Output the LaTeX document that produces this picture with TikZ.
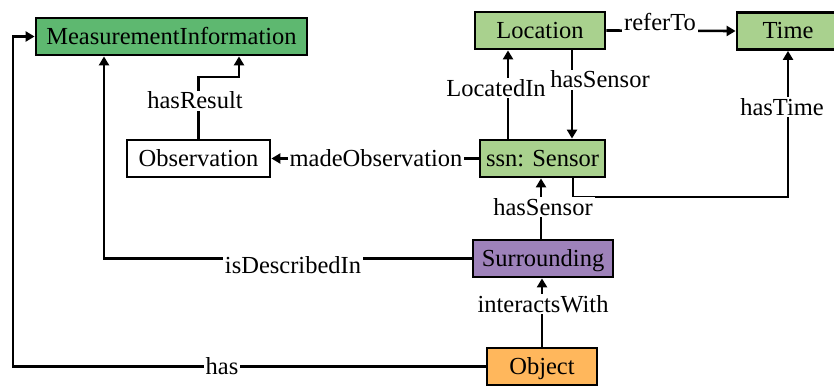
\documentclass[tikz,border=0pt]{standalone}
\usepackage{fontspec}
\setmainfont{Liberation Serif}
\usetikzlibrary{arrows.meta}

\definecolor{mgreen}{RGB}{94,184,112}
\definecolor{lgreen}{RGB}{169,209,142}
\definecolor{lpurple}{RGB}{158,130,186}
\definecolor{lorange}{RGB}{255,183,92}

\tikzset{
  box/.style={draw=black, line width=2.8pt, inner sep=0pt,
              minimum height=37pt, text height=16pt, text depth=0pt,
              font=\fontsize{24.5}{28}\selectfont},
  conn/.style={line width=2.6pt},
  arr/.style={conn, -{Triangle[length=9pt,width=10pt]}},
  rel/.style={fill=white, inner sep=2pt, text height=16pt, text depth=0pt,
              font=\fontsize{24.5}{28}\selectfont},
}

\begin{document}
\begin{tikzpicture}[x=1pt,y=-1pt]
\useasboundingbox (0,0) rectangle (834,385);

% classes
\node[box, fill=mgreen, minimum width=271pt] (mi)  at (171.5,36.5) {MeasurementInformation};
\node[box, fill=white,  minimum width=143pt] (obs) at (198.5,158.5) {Observation};
\node[box, fill=lgreen, minimum width=130pt] (loc) at (540,30.5) {Location};
\node[box, fill=lgreen, minimum width=102pt] (tim) at (788,31) {Time};
\node[box, fill=lgreen, minimum width=125pt] (sen) at (542.5,158.5) {ssn: Sensor};
\node[box, fill=lpurple, minimum width=140pt] (sur) at (543,258.5) {Surrounding};
\node[box, fill=lorange, minimum width=110pt] (obj) at (542,366.5) {Object};

% routing helpers
\coordinate (hasX) at (13,0);
\coordinate (descX) at (104,0);
\coordinate (resX) at (239,0);
\coordinate (resY) at (0,77);
\coordinate (locX) at (508,0);
\coordinate (hsX) at (572,0);
\coordinate (htX) at (573,0);
\coordinate (htY) at (0,197);

% relations
\draw[arr] (obj.west) -- (obj.west -| hasX) |- (mi.west);
\draw[arr] (sur.west) -| (descX |- mi.south);
\draw[arr] (obs.north) -- (obs.north |- resY) -| (resX |- mi.south);
\draw[arr] (sen.west) -- (obs.east);
\draw[arr] (sen.north -| locX) -- (loc.south -| locX);
\draw[arr] (loc.south -| hsX) -- (sen.north -| hsX);
\draw[arr] (loc.east) -- (tim.west);
\draw[arr] (sen.south -| htX) |- (htY -| tim.south) -- (tim.south);
\draw[arr] (sur.north -| 541,0) -- (sen.south -| 541,0);
\draw[arr] (obj.north) -- (obj.north |- sur.south);

% relation labels
\node[rel] (lHas)  at (222,366.5) {has};
\node[rel] (lDesc) at (293,265) {isDescribedIn};
\node[rel] (lRes)  at (195,101) {hasResult};
\node[rel] (lMade) at (376,158) {madeObservation};
\node[rel] (lLoc)  at (496,88) {LocatedIn};
\node[rel] (lHs1)  at (600,80) {hasSensor};
\node[rel] (lRef)  at (660,23) {referTo};
\node[rel] (lTime) at (782,107) {hasTime};
\node[rel] (lHs2)  at (543,207) {hasSensor};
\node[rel] (lInt)  at (543,304) {interactsWith};
\end{tikzpicture}
\end{document}
